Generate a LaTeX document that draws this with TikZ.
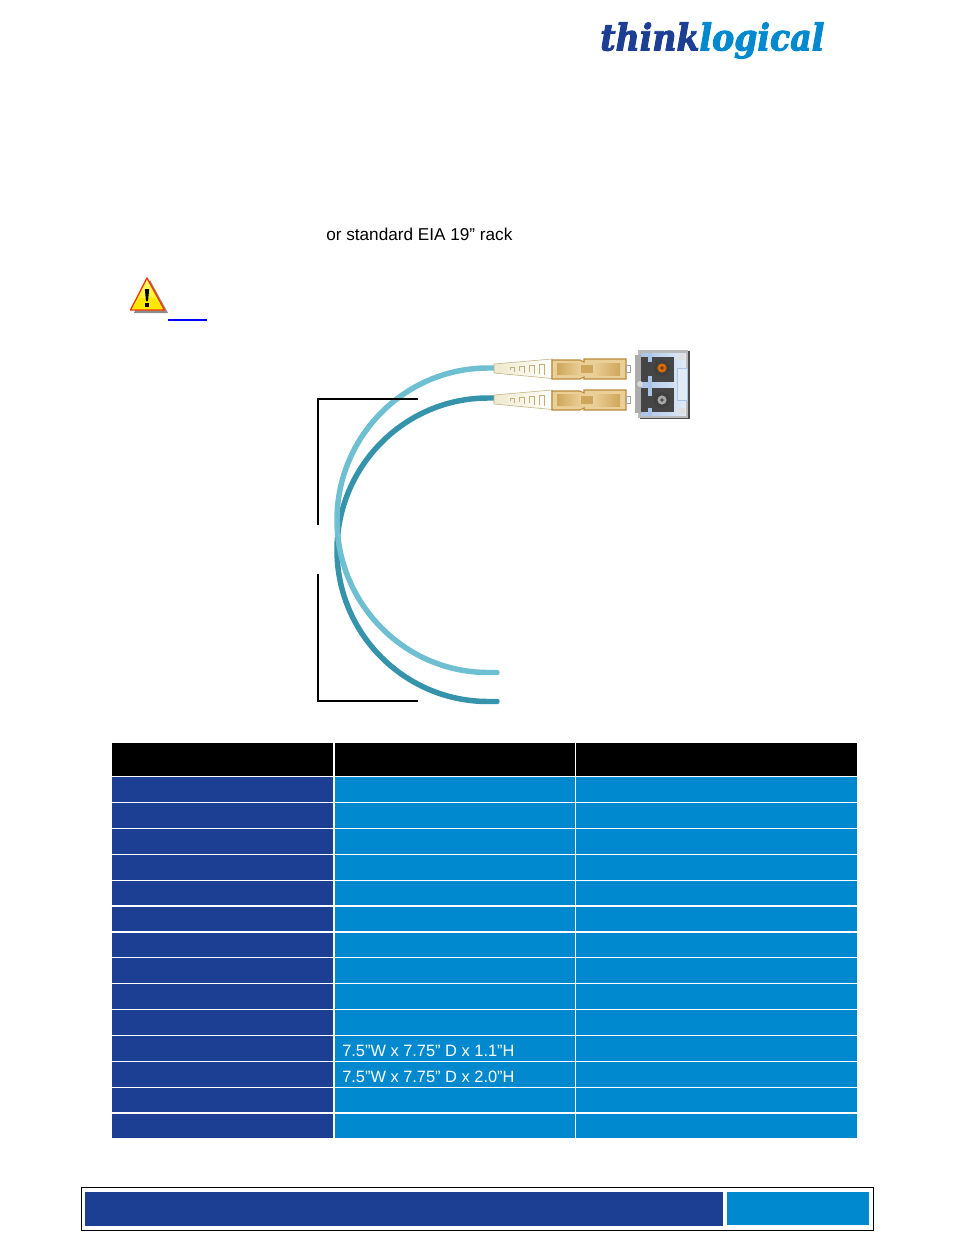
\documentclass[tikz,border=0pt]{standalone}
\usepackage{fontspec}
\setmainfont{Liberation Sans}
\newfontfamily\logofont[ItalicFont={DejaVu Serif Condensed Bold Italic},ItalicFeatures={FakeBold=2.5}]{DejaVu Serif}
\definecolor{tlblue}{HTML}{1C3F94}
\definecolor{tlcyan}{HTML}{0089CE}
\definecolor{fiberA}{HTML}{6FBFD3}
\definecolor{fiberB}{HTML}{3594AC}
\definecolor{brass}{HTML}{BC8A3A}
\definecolor{brassfill}{HTML}{EBCF98}
\definecolor{brassin}{HTML}{CFA75C}
\definecolor{bootc}{HTML}{EFE8CC}
\definecolor{bootl}{HTML}{BFAF78}
\definecolor{steel}{HTML}{A9C4E6}
\definecolor{darkport}{HTML}{454545}
\tikzset{
  x=0.75pt,y=-0.75pt,
  cellL/.style={fill=tlblue,draw=none},
  cellR/.style={fill=tlcyan,draw=none},
  cellH/.style={fill=black,draw=none},
  bracket/.style={draw=black,line width=1.1pt},
  fiber/.style={line width=4.1pt,line cap=round},
  celltext/.style={text=white,font=\fontsize{12.3pt}{14pt}\selectfont,anchor=base west,inner sep=0pt},
  bodytext/.style={text=black,font=\fontsize{12.88pt}{14pt}\selectfont,anchor=base west,inner sep=0pt},
  lcplug/.pic={
    \shade[left color=bootc,right color=white,draw=bootl,line width=.4pt] (494,-5)--(552,-10)--(552,9.5)--(494,4)--cycle;
    \draw[bootl,line width=.7pt] (510,1)--(510,-2)--(514,-2)--(514,3) (519,2)--(519,-3)--(524,-3)--(524,4) (529,3)--(529,-4)--(534,-4)--(534,5) (539,5)--(539,-5)--(544,-5)--(544,6);
    \fill[brassfill,draw=brass,line width=.8pt] (552,-9)--(580,-9)--(584,-7)--(584,-10)--(626,-10)--(626,10)--(584,10)--(584,8)--(580,10)--(552,10)--cycle;
    \shade[left color=brassin,right color=brassfill,draw=none] (557,-6)--(580,-6)--(581,6)--(557,6)--cycle;
    \shade[left color=brassfill,right color=brassin,draw=none] (593,-6)--(620,-6)--(620,6)--(593,6)--cycle;
    \fill[brassin] (581,-4) rectangle (593,4);
    \fill[white,draw=gray!70,line width=.6pt] (626,-4) rectangle (630,3);
  },
}
\begin{document}
\begin{tikzpicture}
\useasboundingbox (0,0) rectangle (954,1235);
\fill[white] (0,0) rectangle (954,1235);
% logo
\node[inner sep=0pt,anchor=west] (logo) at (600,40.5) {\resizebox{168pt}{!}{\logofont\itshape\textcolor{tlblue}{think}\textcolor{tlcyan}{logical}}};
% texts
\node[bodytext] (rack) at (326,240) {or standard EIA 19” rack};
% warning
\node[inner sep=0pt] (warn) at (148,296) {};
\fill[black!45] (134,313)--(150,280)--(168,313)--cycle;
\shade[top color=yellow!55,bottom color=yellow!85!orange,draw=red!60!orange,line width=1pt,line join=round] (130.5,310)--(147,278)--(164.5,310)--cycle;
\fill[yellow!90!orange] (134,308)--(139,298)--(155,298)--(161,308)--cycle;
\fill[black] (144.8,289)--(149.2,289)--(148,301)--(146,301)--cycle;
\fill[black] (145.2,303) rectangle (148.8,307);
\coordinate (linkA) at (168,320);
\coordinate (linkB) at (207,320);
\draw[blue,line width=1pt] (linkA)--(linkB);
% fibres
\coordinate (f1s) at (497,368);
\coordinate (f1e) at (497,672.5);
\coordinate (f2s) at (497,398);
\coordinate (f2e) at (497,701.5);
\draw[fiberB,fiber] (f2s) -- (488,398) .. controls (405,398) and (337,466) .. (337,550) .. controls (337,634) and (405,701.5) .. (488,701.5) -- (f2e);
\draw[fiberA,fiber] (f1s) -- (488,368) .. controls (405,368) and (337,436) .. (337,520) .. controls (337,604) and (405,672.5) .. (488,672.5) -- (f1e);
% plugs
\pic at (0,369) {lcplug};
\pic at (0,400) {lcplug};
% adapter
\fill[gray!60!black] (640,351) rectangle (690,419);
\fill[gray!55] (638,350) rectangle (688,418);
\shade[left color=steel,right color=steel!35!white] (641,353) rectangle (686,415);
\fill[gray!65] (635,355) rectangle (640.5,413);
\fill[darkport] (641,357) rectangle (674,382);
\fill[darkport] (641,388) rectangle (674,412);
\fill[steel] (648,353) rectangle (652,362);
\fill[steel] (648,376) rectangle (652,396);
\fill[steel] (648,408) rectangle (652,416);
\fill[black!75] (662,368) circle (8);
\fill[orange!85!black] (662,368) circle (4.6);
\fill[orange!45!black] (662,368) circle (1.8);
\fill[black!75] (662,400) circle (8);
\fill[gray!70] (662,400) circle (4.6);
\fill[black!70] (662,400) circle (1.8);
\fill[steel!35!white,draw=steel,line width=.5pt] (677,368) rectangle (687,400);
\fill[gray!25] (678,354) rectangle (685,360);
\fill[gray!25] (678,408) rectangle (685,414);
\fill[gray!30] (640,384) circle (3);
% brackets
\coordinate (b1a) at (418,399);
\coordinate (b1c) at (318,399);
\coordinate (b1b) at (318,525);
\coordinate (b2a) at (318,574);
\coordinate (b2c) at (318,701);
\coordinate (b2b) at (418,701);
\draw[bracket] (b1a)--(b1c)--(b1b);
\draw[bracket] (b2a)--(b2c)--(b2b);
% table
\fill[cellH] (112,743) rectangle (333,776);
\fill[cellH] (335,743) rectangle (575,776);
\fill[cellH] (576,743) rectangle (857,776);
\foreach \ya/\yb in {777/802,803/828,829/854,855/880,881/905,907/931,933/957,958/983,984/1009,1010/1035,1036/1061,1062/1087,1088/1112,1114/1138}{
  \fill[cellL] (112,\ya) rectangle (333,\yb);
  \fill[cellR] (335,\ya) rectangle (575,\yb);
  \fill[cellR] (576,\ya) rectangle (857,\yb);
}
\node[celltext] (dim1) at (342,1056) {7.5”W x 7.75” D x 1.1”H};
\node[celltext] (dim2) at (342,1082) {7.5”W x 7.75” D x 2.0”H};
% footer
\draw[black,line width=.6pt] (81.5,1187.5) rectangle (873.5,1230);
\fill[tlblue] (85,1192) rectangle (723,1226);
\fill[tlcyan] (727,1192) rectangle (869,1225);
\end{tikzpicture}
\end{document}
